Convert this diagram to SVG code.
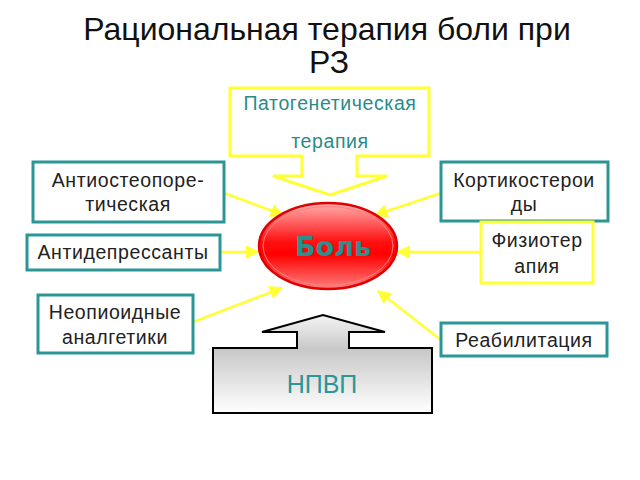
<svg xmlns="http://www.w3.org/2000/svg" width="640" height="480" viewBox="0 0 640 480">
<defs>
<style>
.title{font-family:"Liberation Sans",Arial,sans-serif;font-size:32px;fill:#111;text-anchor:middle}
.lbl{font-family:"Liberation Sans",Arial,sans-serif;font-size:19.5px;letter-spacing:0.6px;fill:#222;text-anchor:middle}
.tl{fill:#2a8a8a}
.tbox{fill:#fff;stroke:#2a9696;stroke-width:3}
.ybox{fill:#fff;stroke:#ffff33;stroke-width:3}
.conn{stroke:#ffff33;stroke-width:2.5;fill:none;marker-end:url(#ah)}
</style>
<marker id="ah" viewBox="0 0 10 10" refX="9" refY="5" markerWidth="5.5" markerHeight="5.5" orient="auto" markerUnits="strokeWidth">
<path d="M0,0 L10,5 L0,10 z" fill="#ffff33"/>
</marker>
<linearGradient id="red" x1="0" y1="0" x2="0" y2="1">
<stop offset="0" stop-color="#ffb0b0"/>
<stop offset="0.45" stop-color="#ff1010"/>
<stop offset="0.6" stop-color="#ff0000"/>
<stop offset="1" stop-color="#ff8080"/>
</linearGradient>
<linearGradient id="gray" x1="0" y1="0" x2="0" y2="1">
<stop offset="0" stop-color="#f4f4f4"/>
<stop offset="0.35" stop-color="#c8c8c8"/>
<stop offset="1" stop-color="#ffffff"/>
</linearGradient>
</defs>
<rect width="640" height="480" fill="#fff"/>
<text class="title" x="327" y="40">Рациональная терапия боли при</text>
<text class="title" x="329" y="73">РЗ</text>

<g id="connectors">
<line class="conn" x1="224" y1="193" x2="283" y2="215"/>
<line class="conn" x1="220" y1="252" x2="258" y2="252"/>
<line class="conn" x1="193" y1="322" x2="282" y2="288"/>
<line class="conn" x1="441" y1="193" x2="375" y2="215"/>
<line class="conn" x1="481" y1="252" x2="398" y2="252"/>
<line class="conn" x1="441" y1="340" x2="378" y2="291"/>
</g>

<g id="patogenetic">
<path d="M230,88 H429 V156 H357 V176 H387 L330,195 L273,176 H302 V156 H230 Z" fill="#fff" stroke="#ffff33" stroke-width="3" stroke-linejoin="miter"/>
<text class="lbl tl" x="330" y="110">Патогенетическая</text>
<text class="lbl tl" x="330" y="148">терапия</text>
</g>

<g id="antiosteo">
<rect class="tbox" x="33" y="162" width="191" height="60"/>
<text class="lbl" x="128" y="187">Антиостеопоре-</text>
<text class="lbl" x="128" y="211">тическая</text>
</g>
<g id="antidepr">
<rect class="tbox" x="27" y="235" width="193" height="35"/>
<text class="lbl" x="123" y="259">Антидепрессанты</text>
</g>
<g id="neopioid">
<rect class="tbox" x="38" y="295" width="155" height="58"/>
<text class="lbl" x="115" y="319">Неопиоидные</text>
<text class="lbl" x="115" y="344">аналгетики</text>
</g>
<g id="cortico">
<rect class="tbox" x="441" y="162" width="167" height="59"/>
<text class="lbl" x="524" y="187">Кортикостерои</text>
<text class="lbl" x="524" y="211">ды</text>
</g>
<g id="physio">
<rect class="ybox" x="481" y="222" width="112" height="61"/>
<text class="lbl" x="537" y="247">Физиотер</text>
<text class="lbl" x="537" y="273">апия</text>
</g>
<g id="rehab">
<rect class="tbox" x="441" y="323" width="166" height="33"/>
<text class="lbl" x="524" y="347">Реабилитация</text>
</g>

<g id="pain">
<ellipse cx="328" cy="246" rx="69" ry="43" fill="url(#red)" stroke="#e00000" stroke-width="2.5"/>
<ellipse cx="328" cy="246" rx="65" ry="39.5" fill="none" stroke="#ff8080" stroke-width="1"/>
<text x="333" y="256" font-family="'DejaVu Sans',Verdana,sans-serif" font-size="27" font-weight="bold" fill="#2a9090" text-anchor="middle">Боль</text>
</g>

<g id="npvp">
<path d="M213,348 H297 V332 H262 L323,315 L385,332 H349 V348 H432 V413 H213 Z" fill="url(#gray)" stroke="#000" stroke-width="2"/>
<text x="322" y="393" font-family="'Liberation Sans',Arial,sans-serif" font-size="25" fill="#2a9696" text-anchor="middle">НПВП</text>
</g>
</svg>
